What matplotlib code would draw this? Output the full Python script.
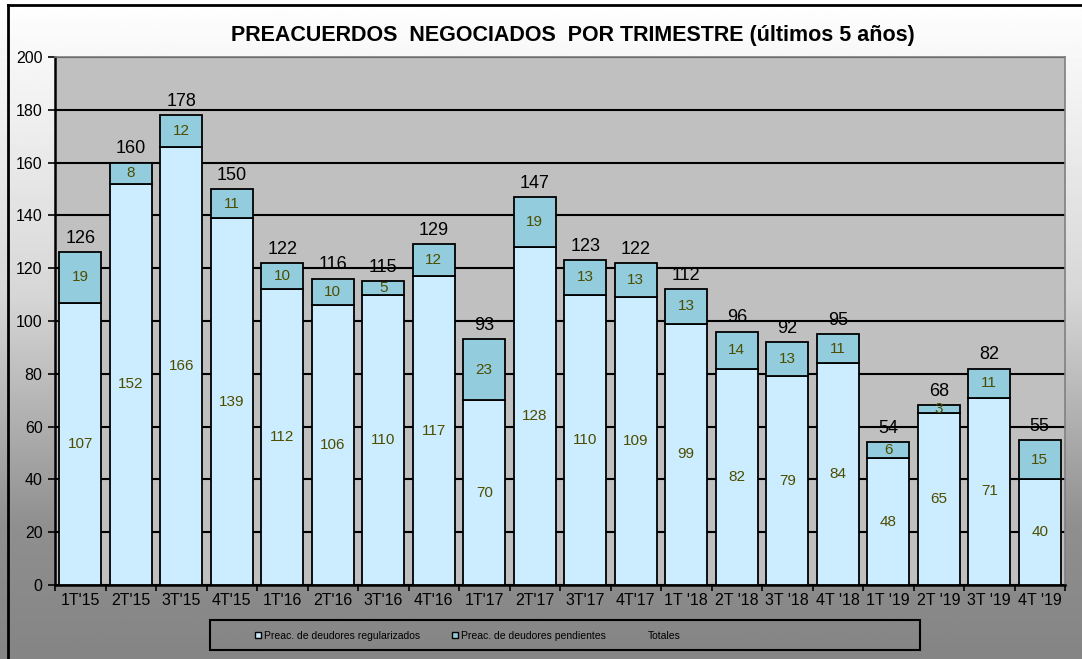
import numpy as np
import matplotlib.pyplot as plt
from matplotlib.patches import Rectangle
from matplotlib.lines import Line2D

plt.rcParams["font.family"] = ["Liberation Sans", "DejaVu Sans"]

# data
trimestres = ["1T'15", "2T'15", "3T'15", "4T'15", "1T'16", "2T'16", "3T'16", "4T'16",
              "1T'17", "2T'17", "3T'17", "4T'17", "1T '18", "2T '18", "3T '18", "4T '18",
              "1T '19", "2T '19", "3T '19", "4T '19"]
regularizados = [107, 152, 166, 139, 112, 106, 110, 117, 70, 128, 110, 109, 99, 82, 79, 84, 48, 65, 71, 40]
pendientes = [19, 8, 12, 11, 10, 10, 5, 12, 23, 19, 13, 13, 13, 14, 13, 11, 6, 3, 11, 15]
totales = [126, 160, 178, 150, 122, 116, 115, 129, 93, 147, 123, 122, 112, 96, 92, 95, 54, 68, 82, 55]

W, H = 1082, 659
fig = plt.figure(figsize=(W / 100, H / 100), dpi=100)

# background gradient (white on top, gray at the bottom)
bg = fig.add_axes([0, 0, 1, 1], zorder=-10)
yy = np.linspace(0, 1, 300)
shade = np.interp(yy, [0, 0.45, 0.8, 1.0], [1.0, 0.84, 0.56, 0.52])
bg.imshow(np.repeat(shade[:, None], 2, axis=1), cmap="gray", vmin=0, vmax=1,
          aspect="auto", extent=[0, 1, 1, 0])
bg.set_xlim(0, 1)
bg.set_ylim(1, 0)
bg.axis("off")
# outer border (top and left)
bg.plot([8 / W, 1], [5 / H, 5 / H], color="black", lw=2)
bg.plot([8 / W, 8 / W], [5 / H, 1], color="black", lw=2)

ax = fig.add_axes([55 / W, 1 - 585 / H, (1065 - 55) / W, (585 - 57) / H])
ax.set_facecolor("#C0C0C0")

x = np.arange(len(trimestres))
bw = 0.84
reg_color = "#CCECFF"
pen_color = "#93CDDD"
lab_color = "#4D4D00"

ax.bar(x, regularizados, bw, color=reg_color, edgecolor="black", linewidth=1.3, zorder=3)
ax.bar(x, pendientes, bw, bottom=regularizados, color=pen_color, edgecolor="black",
       linewidth=1.3, zorder=3)

for i in range(len(x)):
    ax.text(x[i], regularizados[i] / 2, str(regularizados[i]), ha="center", va="center",
            fontsize=11, color=lab_color, zorder=4)
    ax.text(x[i], regularizados[i] + pendientes[i] / 2, str(pendientes[i]), ha="center",
            va="center", fontsize=11, color=lab_color, zorder=4)
    ax.text(x[i], totales[i] + 2, str(totales[i]), ha="center", va="bottom",
            fontsize=13, color="black", zorder=4)

ax.set_xlim(-0.5, len(x) - 0.5)
ax.set_ylim(0, 200)
ax.set_yticks(range(0, 201, 20))
ax.yaxis.grid(True, color="black", linewidth=1.5, zorder=0)
ax.set_axisbelow(True)
ax.set_xticks(np.arange(-0.5, len(x), 1), minor=False)
ax.set_xticklabels([])
ax.set_xticks(x, minor=True)
ax.set_xticklabels(trimestres, minor=True, fontsize=11.5)
ax.tick_params(axis="x", which="minor", length=0, pad=6)
ax.tick_params(axis="x", which="major", length=4, width=1.2, direction="out")
ax.tick_params(axis="y", labelsize=11.5, length=5, width=1.2, direction="out", pad=4)

for s in ["top", "right"]:
    ax.spines[s].set_color("#808080")
    ax.spines[s].set_linewidth(1.2)
for s in ["left", "bottom"]:
    ax.spines[s].set_color("black")
    ax.spines[s].set_linewidth(1.8)

fig.text(573 / W, 1 - 35 / H, "PREACUERDOS  NEGOCIADOS  POR TRIMESTRE (últimos 5 años)",
         ha="center", va="center", fontsize=15.5, fontweight="bold")

# legend box drawn by hand
fig.patches.append(Rectangle((210 / W, 1 - 650 / H), 710 / W, 30 / H, transform=fig.transFigure,
                             facecolor="none", edgecolor="black", linewidth=1.5))
ly = 1 - 636 / H
for xm, col, txt in [(258, reg_color, "Preac. de deudores regularizados"),
                     (455, pen_color, "Preac. de deudores pendientes")]:
    fig.lines.append(Line2D([xm / W], [ly + 1.5 / H], transform=fig.transFigure, marker="s",
                            markersize=5, markerfacecolor=col, markeredgecolor="black",
                            markeredgewidth=1.0))
    fig.text((xm + 6) / W, ly, txt, ha="left", va="center", fontsize=7.5)
fig.text(648 / W, ly, "Totales", ha="left", va="center", fontsize=7.5)

fig.savefig("out.png", dpi=100)
